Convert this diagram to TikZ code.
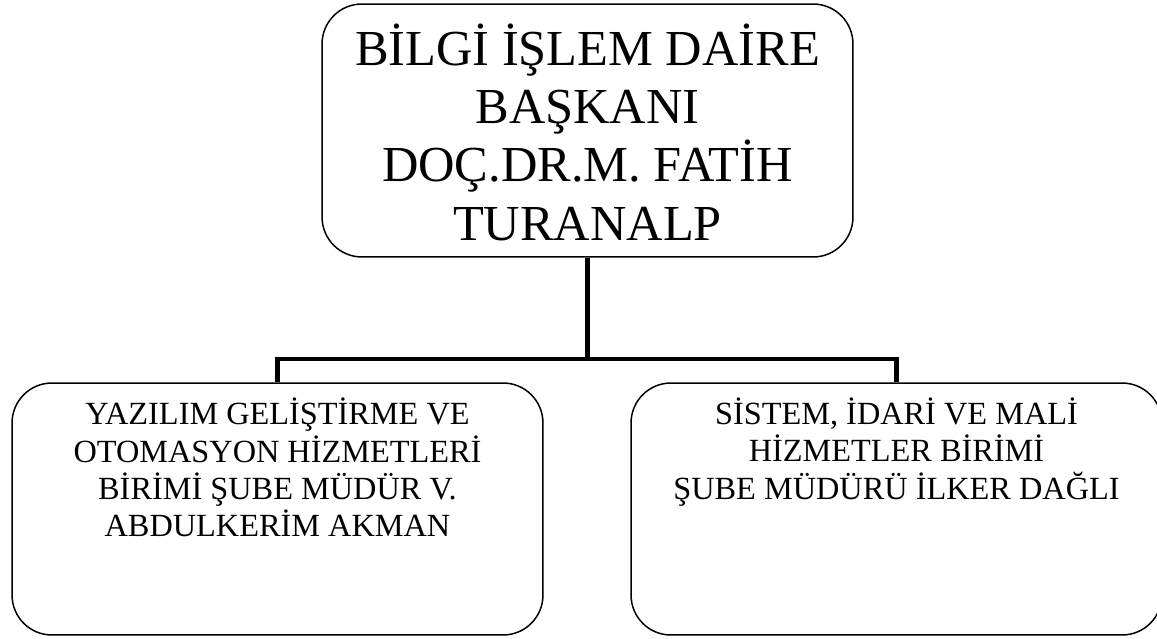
\documentclass[tikz,border=0pt]{standalone}
\usepackage{fontspec}
\setmainfont{Liberation Serif}

\def \boxWidth{10.62cm}
\def \headBoxHeight{5.06cm}
\def \unitBoxHeight{5.04cm}
\def \headCenterX{587.5}
\def \headCenterY{130.5}
\def \leftCenterX{277.5}
\def \rightCenterX{896.5}
\def \unitCenterY{509}
\def \busY{359}

\tikzset{
  orgbox/.style = {draw, rounded corners = 22.7pt, line width = 0.85pt, minimum width = \boxWidth, inner sep = 0pt},
  headtext/.style = {align = center, inner sep = 0pt, font = \fontsize{28.7}{33.2}\selectfont},
  unittext/.style = {align = center, inner sep = 0pt, font = \fontsize{18.4}{21.2}\selectfont},
  link/.style = {line width = 2.8pt}
}

\begin{document}
\begin{tikzpicture}[x = 0.02cm, y = -0.02cm]
\useasboundingbox (0, 0) rectangle (1157, 639);

% ---- Head box
\node[orgbox, minimum height = \headBoxHeight] (head) at (\headCenterX, \headCenterY) {};
\node[headtext] (headlabel) at (\headCenterX, 132) {BİLGİ İŞLEM DAİRE\\BAŞKANI\\DOÇ.DR.M. FATİH\\TURANALP};

% ---- Unit boxes
\node[orgbox, minimum height = \unitBoxHeight] (leftunit) at (\leftCenterX, \unitCenterY) {};
\node[unittext] (leftlabel) at (\leftCenterX, 467.5) {YAZILIM GELİŞTİRME VE\\OTOMASYON HİZMETLERİ\\BİRİMİ ŞUBE MÜDÜR V.\\ABDULKERİM AKMAN};
\node[orgbox, minimum height = \unitBoxHeight] (rightunit) at (\rightCenterX, \unitCenterY) {};
\node[unittext] (rightlabel) at (\rightCenterX, 452) {SİSTEM, İDARİ VE MALİ\\HİZMETLER BİRİMİ\\ŞUBE MÜDÜRÜ İLKER DAĞLI};

% Links
\coordinate (bus) at (\headCenterX, \busY);
\draw[link] (head.south) -- (bus);
\draw[link] (leftunit.north) |- (bus) -| (rightunit.north);
\end{tikzpicture}
\end{document}
